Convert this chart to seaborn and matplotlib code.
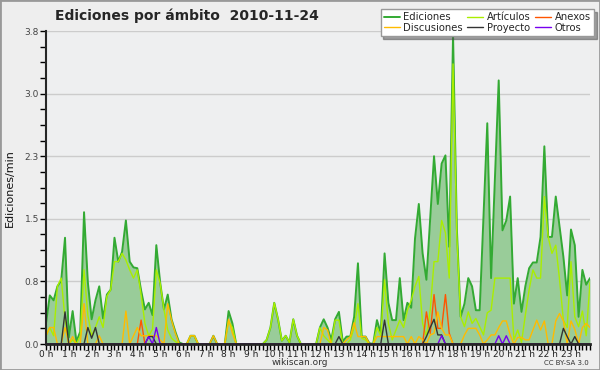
import numpy as np
import pandas as pd
import seaborn as sns
import matplotlib.pyplot as plt
from matplotlib.patches import Rectangle
from matplotlib.ticker import MultipleLocator, FixedLocator

# 10-minute samples over the day (minutes since midnight)
minutes = list(range(0, 1440, 10))

ediciones = [
    0.25, 0.59, 0.53, 0.70, 0.77, 1.29,
    0.08, 0.40, 0.03, 0.15, 1.60, 0.75,
    0.30, 0.53, 0.70, 0.31, 0.60, 0.66,
    1.29, 1.00, 1.12, 1.50, 1.00, 0.93,
    0.92, 0.65, 0.42, 0.50, 0.35, 1.20,
    0.75, 0.42, 0.60, 0.30, 0.15, 0.02,
    0.00, 0.00, 0.10, 0.10, 0.00, 0.00,
    0.00, 0.00, 0.10, 0.00, 0.00, 0.00,
    0.40, 0.25, 0.00, 0.00, 0.00, 0.00,
    0.00, 0.00, 0.00, 0.00, 0.05, 0.20,
    0.50, 0.30, 0.04, 0.10, 0.02, 0.30,
    0.10, 0.00, 0.00, 0.00, 0.00, 0.00,
    0.20, 0.30, 0.20, 0.05, 0.30, 0.39,
    0.03, 0.09, 0.09, 0.33, 0.98, 0.09,
    0.09, 0.01, 0.00, 0.29, 0.13, 1.10,
    0.50, 0.29, 0.29, 0.80, 0.29, 0.50,
    0.44, 1.28, 1.70, 1.10, 0.78, 1.54,
    2.28, 1.70, 2.19, 2.29, 1.18, 3.75,
    1.40, 0.33, 0.49, 0.80, 0.70, 0.41,
    0.41, 1.55, 2.68, 0.80, 2.00, 3.20,
    1.38, 1.50, 1.79, 0.49, 0.80, 0.39,
    0.70, 0.92, 0.99, 0.99, 1.30, 2.40,
    1.30, 1.30, 1.79, 1.42, 1.06, 0.59,
    1.39, 1.20, 0.33, 0.90, 0.72, 0.80,
]

articulos = [
    0.10, 0.20, 0.10, 0.70, 0.80, 0.30,
    0.00, 0.05, 0.00, 0.10, 0.90, 0.35,
    0.10, 0.20, 0.33, 0.20, 0.58, 0.66,
    1.00, 1.00, 1.10, 1.02, 0.90, 0.80,
    0.90, 0.60, 0.25, 0.10, 0.18, 0.90,
    0.74, 0.42, 0.17, 0.07, 0.03, 0.00,
    0.00, 0.00, 0.10, 0.10, 0.00, 0.00,
    0.00, 0.00, 0.00, 0.00, 0.00, 0.00,
    0.28, 0.20, 0.00, 0.00, 0.00, 0.00,
    0.00, 0.00, 0.00, 0.00, 0.05, 0.20,
    0.50, 0.30, 0.04, 0.10, 0.02, 0.30,
    0.10, 0.00, 0.00, 0.00, 0.00, 0.00,
    0.20, 0.10, 0.05, 0.00, 0.29, 0.29,
    0.00, 0.00, 0.05, 0.20, 0.49, 0.07,
    0.05, 0.00, 0.00, 0.20, 0.10, 0.78,
    0.25, 0.05, 0.17, 0.29, 0.20, 0.41,
    0.53, 0.70, 0.82, 0.25, 0.09, 0.41,
    1.00, 1.00, 1.50, 1.35, 0.80, 3.40,
    1.30, 0.33, 0.21, 0.39, 0.25, 0.31,
    0.21, 0.11, 0.38, 0.41, 0.80, 0.80,
    0.80, 0.80, 0.80, 0.05, 0.17, 0.02,
    0.35, 0.66, 0.90, 0.80, 0.80, 1.79,
    1.30, 1.10, 1.20, 0.78, 0.29, 0.20,
    1.00, 0.33, 0.21, 0.40, 0.10, 0.75,
]

discusiones = [
    0.10, 0.20, 0.20, 0.00, 0.00, 0.20,
    0.00, 0.09, 0.00, 0.00, 0.49, 0.00,
    0.00, 0.00, 0.10, 0.00, 0.00, 0.00,
    0.00, 0.00, 0.00, 0.40, 0.00, 0.10,
    0.20, 0.10, 0.10, 0.10, 0.10, 0.10,
    0.05, 0.00, 0.49, 0.29, 0.13, 0.00,
    0.00, 0.00, 0.10, 0.10, 0.00, 0.00,
    0.00, 0.00, 0.10, 0.00, 0.00, 0.00,
    0.30, 0.13, 0.00, 0.00, 0.00, 0.00,
    0.00, 0.00, 0.00, 0.00, 0.00, 0.00,
    0.00, 0.00, 0.00, 0.00, 0.00, 0.00,
    0.00, 0.00, 0.00, 0.00, 0.00, 0.00,
    0.00, 0.20, 0.17, 0.00, 0.00, 0.00,
    0.00, 0.05, 0.09, 0.26, 0.09, 0.09,
    0.09, 0.00, 0.00, 0.09, 0.09, 0.09,
    0.09, 0.09, 0.09, 0.09, 0.09, 0.00,
    0.09, 0.00, 0.09, 0.05, 0.00, 0.11,
    0.13, 0.39, 0.19, 0.11, 0.11, 0.00,
    0.00, 0.00, 0.11, 0.19, 0.19, 0.19,
    0.11, 0.00, 0.05, 0.11, 0.11, 0.20,
    0.28, 0.28, 0.11, 0.00, 0.08, 0.08,
    0.05, 0.05, 0.17, 0.29, 0.17, 0.28,
    0.00, 0.00, 0.28, 0.37, 0.28, 0.00,
    0.28, 0.18, 0.00, 0.20, 0.25, 0.20,
]

# sparse series: {sample index: value}, zero elsewhere
anexos_pts = {25: 0.29, 100: 0.39, 101: 0.13, 102: 0.60, 103: 0.19,
              104: 0.19, 105: 0.60, 106: 0.13}
proyecto_pts = {5: 0.39, 11: 0.20, 12: 0.07, 13: 0.20, 27: 0.09, 28: 0.09,
                77: 0.09, 89: 0.29, 100: 0.09, 101: 0.20, 102: 0.30,
                103: 0.11, 104: 0.11, 136: 0.19, 137: 0.09, 139: 0.09}
otros_pts = {27: 0.09, 29: 0.20, 104: 0.10, 119: 0.10, 121: 0.10}

anexos = [anexos_pts.get(i, 0.0) for i in range(len(minutes))]
proyecto = [proyecto_pts.get(i, 0.0) for i in range(len(minutes))]
otros = [otros_pts.get(i, 0.0) for i in range(len(minutes))]

hour_labels = [f"{h} h" for h in range(24)]

df = pd.DataFrame({
    "hora": np.array(minutes) / 60.0,
    "Ediciones": ediciones,
    "Artículos": articulos,
    "Anexos": anexos,
    "Discusiones": discusiones,
    "Proyecto": proyecto,
    "Otros": otros,
})

colors = {
    "Ediciones": "#33aa33",
    "Artículos": "#aaee00",
    "Anexos": "#ff5500",
    "Discusiones": "#ffbb00",
    "Proyecto": "#333333",
    "Otros": "#7700ee",
}

sns.set_theme(style="ticks")
plt.rcParams["font.family"] = ["DejaVu Sans"]

fig = plt.figure(figsize=(6, 3.7), dpi=100, facecolor="#eeeeee")
ax = fig.add_axes([46 / 600, 26 / 370, 544 / 600, 313 / 370])
ax.set_facecolor("#eeeff0")

ax.fill_between(df["hora"], df["Ediciones"], color="#99cc99", lw=0, zorder=2)
for name in ["Ediciones", "Artículos", "Anexos", "Discusiones", "Proyecto", "Otros"]:
    sns.lineplot(data=df, x="hora", y=name, ax=ax, color=colors[name],
                 lw=1.4 if name == "Ediciones" else 1.0, label=name, zorder=3,
                 legend=False)

ax.set_xlim(0, df["hora"].iloc[-1])
ax.set_ylim(0, 3.8)
yt = np.linspace(0, 3.8, 6)
ax.yaxis.set_major_locator(FixedLocator(yt))
ax.set_yticklabels([f"{v:.1f}" for v in yt])
ax.yaxis.set_minor_locator(MultipleLocator(3.8 / 20))
ax.xaxis.set_major_locator(FixedLocator(range(24)))
ax.set_xticklabels(hour_labels)
ax.xaxis.set_minor_locator(MultipleLocator(1 / 6))
ax.tick_params(axis="both", which="both", direction="out", length=4, width=1,
               color="black")
ax.tick_params(axis="x", labelsize=6.5, pad=0, labelcolor="#222222")
ax.tick_params(axis="y", labelsize=6.5, pad=1, labelcolor="#444444")
ax.grid(axis="y", color="#cccccc", lw=1, zorder=0)
ax.set_axisbelow(True)
sns.despine(ax=ax)
ax.spines["left"].set_linewidth(1.5)
ax.spines["bottom"].set_linewidth(2)
for s in ("left", "bottom"):
    ax.spines[s].set_zorder(5)
ax.set_xlabel("")
ax.set_ylabel("")

fig.text(0.017, 0.493, "Ediciones/min", rotation=90, va="center", ha="center",
         fontsize=8, color="#111111")
fig.text(0.312, 0.958, "Ediciones por ámbito  2010-11-24", ha="center",
         va="center", fontsize=10, fontweight="bold")
fig.text(0.5, 0.019, "wikiscan.org", ha="center", va="center", fontsize=6.5,
         color="#333333")
fig.text(0.982, 0.019, "CC BY-SA 3.0", ha="right", va="center", fontsize=5,
         color="#333333")

handles, labels = ax.get_legend_handles_labels()
lookup = dict(zip(labels, handles))
order = ["Ediciones", "Discusiones", "Artículos", "Proyecto", "Anexos", "Otros"]
leg = fig.legend([lookup[k] for k in order], order, ncol=3, fontsize=7.2,
                 loc="upper right", bbox_to_anchor=(0.99, 0.975),
                 frameon=True, fancybox=False, shadow=True, handlelength=1.6,
                 handletextpad=0.4, columnspacing=0.4, labelspacing=0.05,
                 borderpad=0.3, borderaxespad=0)
leg.get_frame().set_edgecolor("#999999")
leg.get_frame().set_facecolor("white")
leg.get_frame().set_alpha(1)

fig.patches.append(Rectangle((0, 0), 1, 1, transform=fig.transFigure,
                             fill=False, edgecolor="#999999", lw=2))

fig.savefig("out.png", dpi=100, facecolor=fig.get_facecolor())
